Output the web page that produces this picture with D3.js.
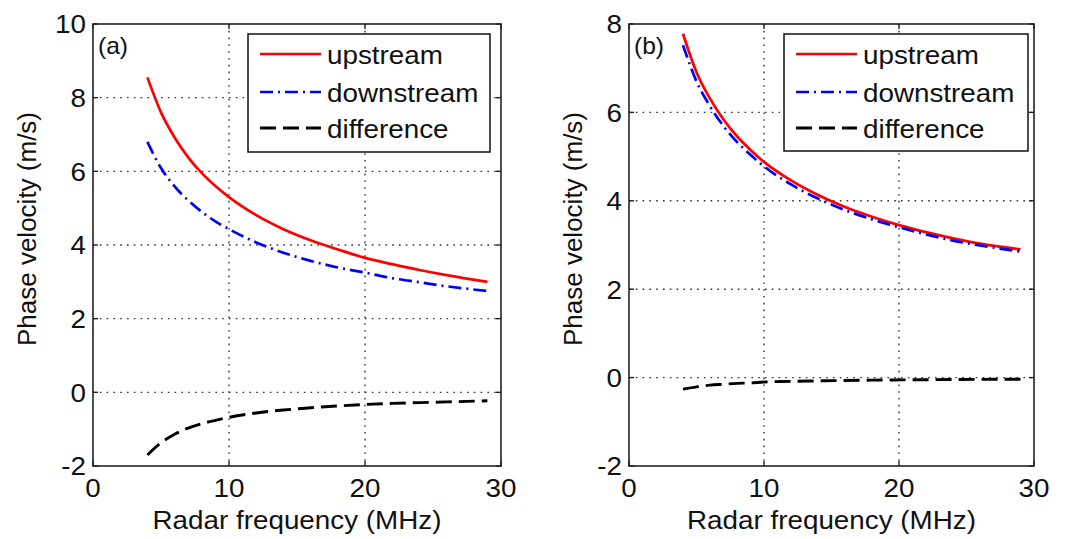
<!DOCTYPE html>
<html>
<head>
<meta charset="utf-8">
<script src="https://cdn.jsdelivr.net/npm/d3@7/dist/d3.min.js"></script>
<style>
  html, body { margin: 0; padding: 0; background: #fff; }
  svg { display: block; }
  text { font-family: "Liberation Sans", Arial, sans-serif; fill: #111; }
</style>
</head>
<body>
<svg id="chart" width="1065" height="539"></svg>
<script>
// Radar frequency samples (MHz)
const freqMHz = [4, 5, 6, 7, 8, 9, 10, 12, 14, 16, 18, 20, 22, 24, 26, 29];

// Panel (a) phase velocities (m/s)
const upstreamA   = [8.55, 7.60, 6.92, 6.38, 5.95, 5.60, 5.30, 4.81, 4.43, 4.13, 3.88, 3.65, 3.48, 3.32, 3.18, 3.00];
const downstreamA = [6.80, 6.09, 5.59, 5.21, 4.90, 4.64, 4.43, 4.07, 3.79, 3.57, 3.39, 3.25, 3.10, 2.99, 2.88, 2.75];
const differenceA = [-1.70, -1.37, -1.14, -0.97, -0.85, -0.76, -0.68, -0.56, -0.48, -0.42, -0.37, -0.33, -0.30, -0.28, -0.26, -0.23];

// Panel (b) phase velocities (m/s)
const upstreamB   = [7.78, 6.91, 6.31, 5.84, 5.46, 5.15, 4.88, 4.46, 4.13, 3.86, 3.64, 3.45, 3.29, 3.15, 3.03, 2.90];
const downstreamB = [7.52, 6.70, 6.14, 5.69, 5.33, 5.04, 4.78, 4.37, 4.05, 3.79, 3.58, 3.40, 3.24, 3.10, 2.99, 2.85];
const differenceB = [-0.26, -0.21, -0.17, -0.15, -0.13, -0.12, -0.10, -0.085, -0.075, -0.065, -0.058, -0.052, -0.048, -0.044, -0.040, -0.036];

// Axis ticks and labels
const xTicks  = [0, 10, 20, 30];
const yTicksA = [-2, 0, 2, 4, 6, 8, 10];
const yTicksB = [-2, 0, 2, 4, 6, 8];
const seriesNames = ["upstream", "downstream", "difference"];
const panelTags = ["(a)", "(b)"];
const xTitle = "Radar frequency (MHz)";
const yTitle = "Phase velocity (m/s)";

const styles = [
  { color: "#ff0000", dash: null,       width: 2.7 },
  { color: "#0000ff", dash: "13,5,2,5", width: 2.7 },
  { color: "#000000", dash: "16,7",     width: 2.9 }
];

const svg = d3.select("#chart");
const SX = 1.07; // horizontal text stretch

function hText(g, x, y, str, size, anchor) {
  return g.append("text")
    .attr("transform", `translate(${x},${y}) scale(${SX},1)`)
    .attr("text-anchor", anchor || "start")
    .attr("font-size", size)
    .text(str);
}

function drawPanel(cfg) {
  const g = svg.append("g");
  const x = d3.scaleLinear().domain([0, 30]).range([cfg.left, cfg.right]);
  const y = d3.scaleLinear().domain(cfg.yDomain).range([cfg.bottom, cfg.top]);

  // dotted grid
  const grid = g.append("g").attr("stroke", "#333").attr("stroke-width", 1.4)
    .attr("stroke-dasharray", "1.6,5.2");
  xTicks.filter(t => t > 0 && t < 30).forEach(t => {
    grid.append("line").attr("x1", x(t)).attr("x2", x(t))
      .attr("y1", cfg.top).attr("y2", cfg.bottom);
  });
  cfg.yTicks.filter(t => t > cfg.yDomain[0] && t < cfg.yDomain[1]).forEach(t => {
    grid.append("line").attr("y1", y(t)).attr("y2", y(t))
      .attr("x1", cfg.left).attr("x2", cfg.right);
  });

  // curves
  const line = d3.line().x((d, i) => x(freqMHz[i])).y(d => y(d)).curve(d3.curveMonotoneX);
  cfg.series.forEach((s, k) => {
    g.append("path").datum(s)
      .attr("fill", "none")
      .attr("stroke", styles[k].color)
      .attr("stroke-width", styles[k].width)
      .attr("stroke-dasharray", styles[k].dash)
      .attr("d", line);
  });

  // legend
  const lg = g.append("g");
  lg.append("rect").attr("x", cfg.legend.x).attr("y", cfg.legend.y)
    .attr("width", cfg.legend.w).attr("height", cfg.legend.h)
    .attr("fill", "#fff").attr("stroke", "#111").attr("stroke-width", 1.5);
  const rows = [54, 92, 128];
  seriesNames.forEach((name, k) => {
    const ly = rows[k];
    lg.append("line")
      .attr("x1", cfg.legend.x + 12).attr("x2", cfg.legend.x + 73)
      .attr("y1", ly).attr("y2", ly)
      .attr("stroke", styles[k].color).attr("stroke-width", styles[k].width)
      .attr("stroke-dasharray", styles[k].dash);
    hText(lg, cfg.legend.x + 79, ly + 9.5, name, 26);
  });

  // axes frame
  g.append("rect").attr("x", cfg.left).attr("y", cfg.top)
    .attr("width", cfg.right - cfg.left).attr("height", cfg.bottom - cfg.top)
    .attr("fill", "none").attr("stroke", "#222").attr("stroke-width", 1.6);

  // inward tick marks on all four sides
  const tk = g.append("g").attr("stroke", "#222").attr("stroke-width", 1.4);
  xTicks.forEach(t => {
    tk.append("line").attr("x1", x(t)).attr("x2", x(t)).attr("y1", cfg.bottom).attr("y2", cfg.bottom - 5);
    tk.append("line").attr("x1", x(t)).attr("x2", x(t)).attr("y1", cfg.top).attr("y2", cfg.top + 5);
  });
  cfg.yTicks.forEach(t => {
    tk.append("line").attr("y1", y(t)).attr("y2", y(t)).attr("x1", cfg.left).attr("x2", cfg.left + 5);
    tk.append("line").attr("y1", y(t)).attr("y2", y(t)).attr("x1", cfg.right).attr("x2", cfg.right - 5);
  });

  // tick labels
  xTicks.forEach(t => hText(g, x(t), 497, String(t), 26, "middle"));
  cfg.yTicks.forEach(t => hText(g, cfg.left - 7, y(t) + 9.3, t < 0 ? "-" + Math.abs(t) : String(t), 26, "end"));

  // titles
  hText(g, (cfg.left + cfg.right) / 2, 529, xTitle, 26, "middle");
  g.append("text")
    .attr("transform", `translate(${cfg.yTitleX},229) rotate(-90)`)
    .attr("text-anchor", "middle").attr("font-size", 26)
    .text(yTitle);

  // panel tag
  hText(g, cfg.left + 5, cfg.top + 30, cfg.tag, 23);
}

drawPanel({
  left: 93, right: 501, top: 24, bottom: 466,
  yDomain: [-2, 10], yTicks: yTicksA,
  series: [upstreamA, downstreamA, differenceA],
  legend: { x: 248, y: 34, w: 242, h: 118 },
  yTitleX: 36, tag: panelTags[0]
});

drawPanel({
  left: 629, right: 1034, top: 24, bottom: 466,
  yDomain: [-2, 8], yTicks: yTicksB,
  series: [upstreamB, downstreamB, differenceB],
  legend: { x: 784, y: 34, w: 244, h: 117 },
  yTitleX: 582, tag: panelTags[1]
});
</script>
</body>
</html>
